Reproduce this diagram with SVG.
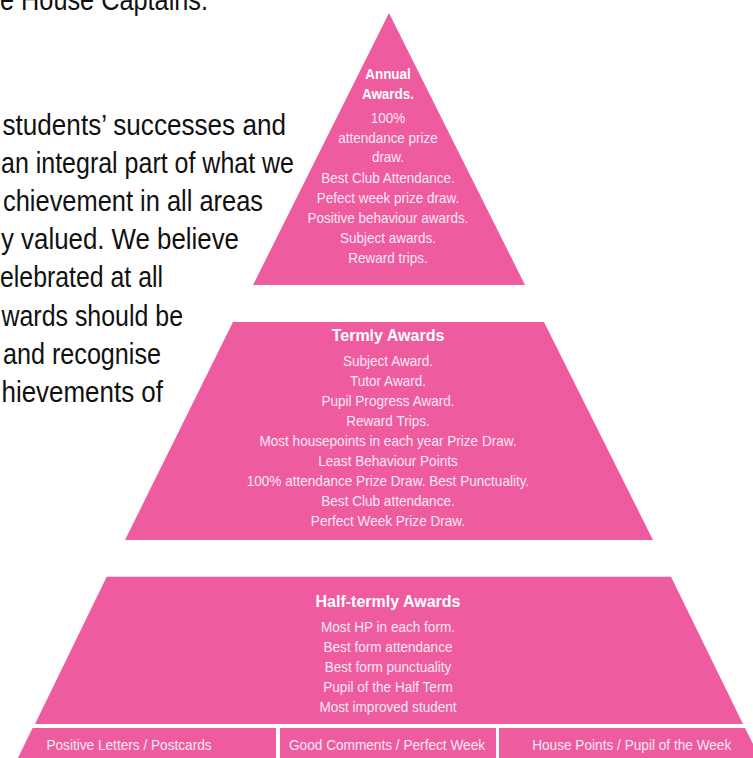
<svg xmlns="http://www.w3.org/2000/svg" width="753" height="758" viewBox="0 0 753 758">
  <style>
    .tier { fill: #EF5B9F; }
    .para { font-family: "Liberation Sans", Arial, sans-serif; font-size: 29px; fill: #111111; }
    .title { font-family: "Liberation Sans", Arial, sans-serif; font-weight: bold; fill: #FFFFFF; text-anchor: middle; }
    .body { font-family: "Liberation Sans", Arial, sans-serif; font-size: 15px; fill: #FDE8F2; text-anchor: middle; }
  </style>
  <rect x="0" y="0" width="753" height="758" fill="#FFFFFF"/>

  <g id="paragraph">
    <text class="para" x="0" y="10" textLength="208" lengthAdjust="spacingAndGlyphs">e House Captains.</text>
    <text class="para" x="2.5" y="135" textLength="283.5" lengthAdjust="spacingAndGlyphs">students’ successes and</text>
    <text class="para" x="1" y="173" textLength="293" lengthAdjust="spacingAndGlyphs">an integral part of what we</text>
    <text class="para" x="3" y="211" textLength="260" lengthAdjust="spacingAndGlyphs">chievement in all areas</text>
    <text class="para" x="1" y="249" textLength="238" lengthAdjust="spacingAndGlyphs">y valued. We believe</text>
    <text class="para" x="0" y="287" textLength="163" lengthAdjust="spacingAndGlyphs">elebrated at all</text>
    <text class="para" x="1.5" y="325.5" textLength="181.5" lengthAdjust="spacingAndGlyphs">wards should be</text>
    <text class="para" x="3" y="363.5" textLength="158" lengthAdjust="spacingAndGlyphs">and recognise</text>
    <text class="para" x="1.5" y="401.5" textLength="161.5" lengthAdjust="spacingAndGlyphs">hievements of</text>
  </g>

  <g id="tier-annual">
    <polygon class="tier" points="389,13 525,285 253,285"/>
    <g transform="translate(388,0) scale(0.9,1)">
      <text class="title" x="0" y="79.3" font-size="15">Annual</text>
      <text class="title" x="0" y="99" font-size="15">Awards.</text>
      <text class="body" x="0" y="122.6">100%</text>
      <text class="body" x="0" y="142.7">attendance prize</text>
      <text class="body" x="0" y="162.5">draw.</text>
      <text class="body" x="0" y="182.7">Best Club Attendance.</text>
      <text class="body" x="0" y="202.8">Pefect week prize draw.</text>
      <text class="body" x="0" y="223.1">Positive behaviour awards.</text>
      <text class="body" x="0" y="243.2">Subject awards.</text>
      <text class="body" x="0" y="263.3">Reward trips.</text>
    </g>
  </g>

  <g id="tier-termly">
    <polygon class="tier" points="233,322 544,322 653,540 125,540"/>
    <text class="title" x="388" y="340.7" font-size="16">Termly Awards</text>
    <g transform="translate(388,0) scale(0.905,1)">
      <text class="body" x="0" y="366">Subject Award.</text>
      <text class="body" x="0" y="386">Tutor Award.</text>
      <text class="body" x="0" y="406">Pupil Progress Award.</text>
      <text class="body" x="0" y="426">Reward Trips.</text>
      <text class="body" x="0" y="446">Most housepoints in each year Prize Draw.</text>
      <text class="body" x="0" y="466">Least Behaviour Points</text>
      <text class="body" x="0" y="486">100% attendance Prize Draw. Best Punctuality.</text>
      <text class="body" x="0" y="506">Best Club attendance.</text>
      <text class="body" x="0" y="526">Perfect Week Prize Draw.</text>
    </g>
  </g>

  <g id="tier-half-termly">
    <polygon class="tier" points="106.7,576.7 671,576.7 743,724 35,724"/>
    <text class="title" x="388" y="606.7" font-size="16">Half-termly Awards</text>
    <g transform="translate(388,0) scale(0.905,1)">
      <text class="body" x="0" y="631.7">Most HP in each form.</text>
      <text class="body" x="0" y="651.7">Best form attendance</text>
      <text class="body" x="0" y="671.7">Best form punctuality</text>
      <text class="body" x="0" y="691.7">Pupil of the Half Term</text>
      <text class="body" x="0" y="711.7">Most improved student</text>
    </g>
  </g>

  <g id="base-positive-letters">
    <polygon class="tier" points="32.6,728 276,728 276,758 17.9,758"/>
    <g transform="translate(129,0) scale(0.91,1)">
      <text class="body" x="0" y="750.5">Positive Letters / Postcards</text>
    </g>
  </g>
  <g id="base-good-comments">
    <polygon class="tier" points="280,728 496,728 496,758 280,758"/>
    <g transform="translate(387,0) scale(0.91,1)">
      <text class="body" x="0" y="750.5">Good Comments / Perfect Week</text>
    </g>
  </g>
  <g id="base-house-points">
    <polygon class="tier" points="499,728 745.1,728 759.8,758 499,758"/>
    <g transform="translate(631.7,0) scale(0.91,1)">
      <text class="body" x="0" y="750.5">House Points / Pupil of the Week</text>
    </g>
  </g>
</svg>
